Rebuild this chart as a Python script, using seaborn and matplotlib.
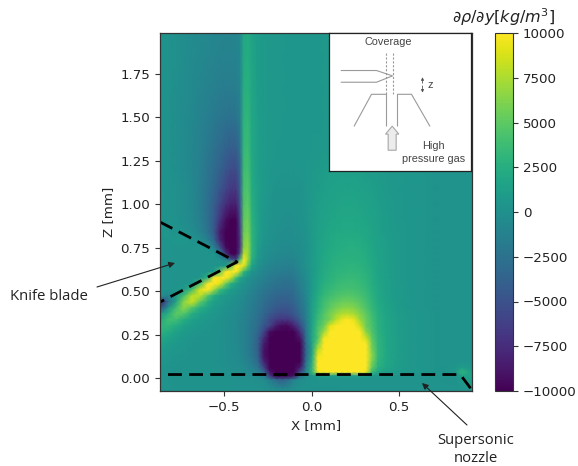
import matplotlib
matplotlib.use("Agg")
import matplotlib.pyplot as plt
import numpy as np
import pandas as pd
import seaborn as sns

# Measurement nodes of the table below, as reference pixel columns / rows
x_nodes_px = [160,168,176,184,192,200,208,214,220,226,231,236,240,244,248,252,258,264,270,276,282,288,294,300,306,
              312,318,324,330,336,342,348,354,360,366,372,378,386,396,410,425,440,455,462,472]
z_nodes_px = [33,60,90,120,150,170,190,205,220,232,240,248,254,260,266,272,278,284,290,296,302,308,314,320,326,332,
              338,344,350,356,362,368,372,376,380,391]

# Density gradient, in units of 1000 kg/m3 (rows top to bottom)
drho_rows = [
    [.2,.1,0,-.2,-.4, -.5,-.7,-.8,-.9,-1, -1,-.9,-.5,2,2.2, 1.6,1,.8,.7,.6, .6,.5,.5,.5,.5, .5,.5,.6,.6,.6, .6,.6,.6,.6,.6, .5,.5,.5,.4,.4, .4,.4,.4,.4,.4],
    [.2,.1,0,-.2,-.5, -.7,-.9,-1,-1.1,-1.2, -1.2,-1.1,-.7,2.2,2.4, 1.7,1,.8,.7,.6, .6,.5,.5,.5,.5, .5,.5,.6,.6,.6, .6,.6,.6,.6,.6, .5,.5,.5,.4,.4, .4,.4,.4,.4,.4],
    [.2,.1,-.1,-.3,-.6, -.9,-1.2,-1.4,-1.6,-1.7, -1.7,-1.5,-1,2.5,2.7, 1.8,1,.8,.7,.6, .6,.5,.5,.5,.5, .5,.5,.6,.6,.6, .6,.6,.6,.6,.6, .5,.5,.5,.4,.4, .4,.4,.4,.4,.4],
    [.2,.1,-.1,-.4,-.7, -1.1,-1.5,-1.9,-2.2,-2.5, -2.6,-2.4,-1.5,3,3.2, 1.9,1.1,.8,.7,.6, .6,.5,.5,.5,.5, .5,.5,.6,.6,.6, .6,.6,.6,.6,.6, .5,.5,.5,.4,.4, .4,.4,.4,.4,.4],
    [.2,.1,-.1,-.4,-.8, -1.3,-2,-2.6,-3.2,-3.8, -4.2,-4.2,-2.5,3.4,3.6, 2,1.1,.8,.7,.6, .5,.5,.5,.5,.5, .6,.6,.7,.7,.7, .7,.7,.7,.7,.7, .6,.6,.5,.4,.4, .4,.4,.4,.4,.4],
    [.2,.1,-.1,-.4,-.8, -1.4,-2.3,-3,-3.8,-4.8, -5.4,-5.4,-3.5,3.8,4, 2.1,1.1,.8,.6,.5, .4,.4,.4,.5,.6, .7,.8,1,1.1,1.1, 1.1,1.1,1.1,1.1,1, .9,.8,.7,.6,.5, .4,.3,.3,.3,.3],
    [.3,.2,0,-.3,-.7, -1.5,-2.6,-3.5,-4.8,-6, -6.8,-6.8,-4,4.2,4.5, 2.3,1.2,.8,.5,.3, .2,.2,.2,.3,.5, .8,1,1.2,1.3,1.4, 1.5,1.5,1.5,1.4,1.3, 1.2,1,.8,.6,.5, .4,.3,.3,.3,.3],
    [.3,.2,0,-.3,-.7, -1.5,-2.8,-4,-5.8,-7.5, -8.3,-8.3,-5,4.5,5, 2.5,1.2,.7,.4,.2, .1,.1,.1,.2,.5, .8,1.1,1.3,1.5,1.6, 1.7,1.7,1.7,1.6,1.5, 1.3,1.1,.9,.7,.5, .4,.3,.3,.3,.3],
    [.4,.2,.1,-.2,-.6, -1.4,-2.8,-4.3,-7,-9.3, -10,-10,-6,5,5.6, 2.8,1.3,.6,.3,.1, 0,-.1,0,.1,.4, .8,1.2,1.5,1.7,1.8, 1.9,1.9,1.9,1.8,1.7, 1.5,1.2,1,.7,.5, .4,.3,.3,.3,.3],
    [.6,.5,.3,.1,-.3, -1,-2.5,-4.5,-8.5,-10, -10,-10,-6.5,5.5,6, 3,1.3,.5,.2,0, -.2,-.2,-.1,0,.3, .8,1.3,1.6,1.9,2, 2.1,2.1,2.1,2,1.9, 1.6,1.3,1,.8,.5, .4,.3,.3,.3,.3],
    [.3,.4,.6,.5,.3, -.2,-1.5,-3.5,-8,-10, -10,-10,-7,6,6.5, 3,1.2,.4,.1,-.1, -.3,-.3,-.2,-.1,.3, .8,1.3,1.7,2,2.2, 2.2,2.3,2.3,2.2,2, 1.7,1.4,1.1,.8,.5, .4,.3,.3,.3,.3],
    [.3,.3,.3,.3,.4, .5,.3,-1,-5,-9.5, -10,-10,-7,6.5,7, 3,1,.2,-.1,-.3, -.5,-.5,-.4,-.2,.2, .8,1.4,1.8,2.1,2.3, 2.4,2.5,2.5,2.4,2.2, 1.8,1.4,1.1,.8,.5, .4,.3,.3,.3,.3],
    [.3,.3,.3,.3,.3, .3,.3,.4,-1.5,-7, -10,-10,-5,8,7, 3,.8,0,-.3,-.6, -.7,-.7,-.6,-.3,.1, .8,1.4,1.9,2.2,2.4, 2.5,2.6,2.6,2.5,2.3, 1.9,1.5,1.1,.8,.5, .4,.3,.3,.3,.3],
    [.3,.3,.3,.3,.3, .3,.3,.3,.3,-1, -4,-6,4,10,7, 2.5,.5,-.2,-.5,-.8, -.9,-1,-.8,-.4,.1, .8,1.5,2,2.3,2.6, 2.7,2.7,2.7,2.6,2.4, 2,1.5,1.1,.8,.5, .4,.3,.3,.3,.3],
    [.3,.3,.3,.3,.3, .3,.3,.3,.4,1, 5,10,10,9,5, 1.5,.1,-.5,-.9,-1.2, -1.3,-1.4,-1.1,-.6,0, .8,1.5,2.1,2.4,2.7, 2.8,2.9,2.9,2.8,2.5, 2.1,1.6,1.2,.8,.5, .4,.3,.3,.3,.3],
    [.3,.3,.3,.3,.3, .3,.4,1,5,10, 10,10,7,3,1.5, .3,-.3,-.9,-1.3,-1.6, -1.7,-1.8,-1.5,-.8,-.1, .8,1.6,2.2,2.6,2.9, 3,3.1,3.1,3,2.7, 2.2,1.7,1.2,.8,.5, .4,.3,.3,.3,.3],
    [.3,.3,.3,.3,.3, .5,3,10,10,10, 8,4,1.8,.8,.2, -.3,-.8,-1.3,-1.7,-2, -2.2,-2.3,-1.9,-1.1,-.3, .8,1.7,2.4,2.8,3.1, 3.3,3.4,3.4,3.2,2.9, 2.3,1.7,1.2,.8,.5, .4,.3,.3,.3,.3],
    [.3,.3,.3,.4,.6, 4,10,10,9,5, 2.5,1.2,.6,.2,-.2, -.7,-1.2,-1.7,-2.1,-2.4, -2.6,-2.7,-2.3,-1.4,-.5, .8,1.8,2.6,3,3.4, 3.6,3.7,3.7,3.5,3.1, 2.4,1.8,1.3,.8,.5, .4,.3,.3,.3,.3],
    [.3,.3,.4,.8,4, 9,10,7,3.5,2, 1,.5,.2,-.2,-.6, -1,-1.6,-2.1,-2.5,-2.9, -3.1,-3.1,-2.7,-1.7,-.6, .9,2,2.9,3.4,3.8, 4,4.1,4,3.8,3.3, 2.6,1.9,1.3,.9,.6, .4,.3,.3,.3,.3],
    [.2,-1,.5,4,8, 8,4.5,2.3,1.2,.7, .4,.1,-.2,-.5,-.9, -1.3,-1.9,-2.5,-3,-3.4, -3.6,-3.6,-3.1,-2,-.8, 1,2.3,3.3,3.9,4.3, 4.6,4.7,4.6,4.2,3.6, 2.8,2,1.4,.9,.6, .4,.3,.3,.3,.3],
    [-8,-3,1.5,6.5,8.5, 5,2.5,1.3,.8,.4, .1,-.1,-.4,-.7,-1.1, -1.5,-2.1,-2.8,-3.4,-3.9, -4,-4,-3.5,-2.3,-1, 1.1,2.6,3.8,4.5,5, 5.4,5.5,5.3,4.8,4, 3,2.1,1.5,1,.6, .4,.3,.3,.3,.3],
    [-5,.3,3.8,6.5,4.5, 2.5,1.4,.9,.5,.2, -.1,-.3,-.6,-.9,-1.3, -1.7,-2.3,-3.1,-3.8,-4.4, -4.7,-4.7,-4,-2.7,-1.2, 1.2,2.8,4,5,5.8, 6.3,6.5,6.2,5.4,4.4, 3.3,2.3,1.6,1,.6, .4,.3,.3,.3,.3],
    [.5,2.5,5,4.5,2.4, 1.4,.9,.6,.3,0, -.2,-.4,-.7,-1,-1.4, -1.8,-2.5,-3.5,-4.5,-5.2, -5.5,-5.3,-4.6,-3.2,-1.4, 1.3,3.2,4.6,5.8,6.8, 7.6,7.8,7.4,6.2,5, 3.7,2.5,1.7,1.1,.7, .5,.3,.3,.3,.3],
    [2,3.8,3.8,2.3,1.4, .9,.6,.4,.2,-.1, -.3,-.5,-.8,-1.1,-1.5, -2,-2.8,-4,-5.5,-6.5, -7,-7,-6,-4,-1.6, 1.4,3.6,4.8,6,8, 9.6,10,9.3,7,5.4, 4,2.6,1.8,1.1,.7, .5,.3,.3,.3,.3],
    [3,3.2,2.3,1.4,.9, .6,.4,.3,.1,-.1, -.3,-.5,-.8,-1.2,-1.6, -2.1,-3,-4.7,-6,-8.5, -9.5,-9.5,-8,-5.5,-1.8, 1.5,4,5.5,9,10, 10,10,10,8.5,5.5, 4.2,2.7,1.8,1.1,.7, .5,.3,.3,.3,.3],
    [2.8,2.2,1.4,.9,.6, .4,.3,.2,.1,-.1, -.3,-.5,-.8,-1.2,-1.7, -2.2,-3.4,-6,-9.5,-10, -10,-10,-10,-7.5,-2.2, 1.6,4.5,7,10,10, 10,10,10,10,6.5, 4.5,2.8,1.8,1.1,.7, .5,.3,.3,.3,.3],
    [2,1.5,1,.6,.4, .3,.2,.1,0,-.1, -.3,-.5,-.8,-1.2,-1.7, -2.3,-3.8,-7.5,-10,-10, -10,-10,-10,-9,-2.6, 1.7,4.5,9.5,10,10, 10,10,10,10,8.5, 5,3,1.9,1.2,.7, .5,.3,.3,.3,.3],
    [1.4,1,.7,.5,.3, .2,.1,.1,0,-.1, -.3,-.5,-.8,-1.2,-1.7, -2.4,-4,-8.5,-10,-10, -10,-10,-10,-10,-3.2, 1.6,6,10,10,10, 10,10,10,10,10, 5.5,3.1,1.9,1.2,.7, .5,.3,.3,.3,.3],
    [1,.7,.5,.4,.3, .2,.1,.1,0,-.1, -.2,-.4,-.7,-1.1,-1.6, -2.3,-4,-9,-10,-10, -10,-10,-10,-10,-3.5, 1.5,8,10,10,10, 10,10,10,10,10, 6,3.2,2,1.2,.7, .5,.3,.3,.3,.3],
    [.7,.5,.4,.3,.2, .2,.1,.1,0,-.1, -.2,-.4,-.6,-1,-1.5, -2.1,-3.8,-9,-10,-10, -10,-10,-10,-10,-3.3, 2,9.5,10,10,10, 10,10,10,10,10, 6.5,3.2,2,1.2,.7, .5,.3,.3,.3,.3],
    [.5,.4,.3,.2,.2, .2,.1,.1,0,-.1, -.2,-.3,-.5,-.8,-1.2, -1.8,-3.2,-8,-10,-10, -10,-10,-10,-10,-2.8, 2.5,10,10,10,10, 10,10,10,10,10, 6,3,1.9,1.2,.7, .5,.3,.3,.3,.3],
    [.4,.3,.2,.2,.2, .1,.1,.1,0,0, -.1,-.2,-.3,-.5,-.8, -1.2,-2.2,-6,-10,-10, -10,-10,-10,-8.5,-1.8, 3,10,10,10,10, 10,10,10,10,10, 5,2.6,1.7,1.1,.7, .5,.3,.4,1.2,.6],
    [.3,.3,.2,.2,.2, .1,.1,.1,.1,0, 0,-.1,-.2,-.3,-.5, -.8,-1.4,-3.5,-9,-10, -10,-10,-10,-6,-1, 3.2,9.5,10,10,10, 10,10,10,10,9.5, 3.5,1.8,1.2,.9,.6, .5,.3,.6,3,1],
    [.3,.3,.2,.2,.2, .1,.1,.1,.1,.1, 0,0,-.1,-.1,-.2, -.3,-.5,-1.5,-7,-10, -10,-10,-9,-3,-.3, .5,1,1.2,1.2,1.2, 1.2,1.2,1.2,1.2,1, .7,.5,.4,.4,.3, .3,.3,.3,1.5,1.5],
    [.3,.3,.2,.2,.2, .1,.1,.1,.1,.1, .1,0,0,0,0, 0,-.1,-.3,-1.5,-3, -4,-3,-1,-.2,0, .2,.3,.3,.3,.3, .3,.3,.3,.3,.3, .3,.3,.3,.3,.3, .3,.3,.2,.8,1.5],
    [.3,.3,.2,.2,.2, .1,.1,.1,.1,.1, .1,.1,.1,.1,.1, .1,.1,.1,.1,.1, 0,.1,.1,.1,.1, .2,.2,.2,.2,.2, .3,.3,.3,.3,.3, .3,.3,.3,.3,.3, .3,.3,.3,.3,.3],
]
x_ticks_mm = [-0.5, 0.0, 0.5]
z_ticks_mm = [0.0, 0.25, 0.5, 0.75, 1.0, 1.25, 1.5, 1.75]
cbar_ticks = [-10000, -7500, -5000, -2500, 0, 2500, 5000, 7500, 10000]

# dashed outlines in mm
knife_x = [-0.866, -0.426, -0.866]
knife_z = [0.898, 0.668, 0.437]
nozzle_x = [-0.82, 0.85, 0.92]
nozzle_z = [0.02, 0.02, -0.07]

W, H = 578, 466


def box(x0, y0, x1, y1):
    # axes rectangle from reference pixels
    return [x0 / W, 1 - y1 / H, (x1 - x0) / W, (y1 - y0) / H]


def fig_xy(px, py):
    return px / W, 1 - py / H


df = pd.DataFrame(np.array(drho_rows) * 1000)
nrows, ncols = df.shape
col_idx = np.arange(ncols)
row_idx = np.arange(nrows)


def col_of(x_mm):
    # mm -> table column
    return np.interp(311.5 + 175.0 * np.asarray(x_mm), x_nodes_px, col_idx)


def row_of(z_mm):
    # mm -> table row
    return np.interp(378.0 - 173.7 * np.asarray(z_mm), z_nodes_px, row_idx)


sns.set_theme(style="ticks", rc={"font.family": "DejaVu Sans"})
fig = plt.figure(figsize=(W / 100, H / 100), dpi=100)
ax = fig.add_axes(box(160, 33, 472, 391))
cax = fig.add_axes(box(495, 33, 513, 391))

sns.heatmap(df, ax=ax, cbar_ax=cax, cmap="viridis", vmin=-10000, vmax=10000, shading="gouraud",
            xticklabels=False, yticklabels=False, cbar_kws={"ticks": cbar_ticks})

# table nodes are not evenly spaced, so stretch the axes to match
ax.set_xscale("function", functions=(lambda i: np.interp(i, col_idx, x_nodes_px),
                                     lambda p: np.interp(p, x_nodes_px, col_idx)))
ax.set_yscale("function", functions=(lambda i: np.interp(i, row_idx, z_nodes_px),
                                     lambda p: np.interp(p, z_nodes_px, row_idx)))
ax.set_xlim(0, ncols - 1)
ax.set_ylim(nrows - 1, 0)

for s in ax.spines.values():
    s.set_visible(True)
    s.set_linewidth(0.9)
    s.set_color("#333333")
ax.set_xticks(col_of(x_ticks_mm))
ax.set_xticklabels(["\u22120.5", "0.0", "0.5"])
ax.set_yticks(row_of(z_ticks_mm))
ax.set_yticklabels(["%.2f" % z for z in z_ticks_mm])
ax.tick_params(labelsize=9.6, length=3.5, width=0.8, color="#333333", labelcolor="#222222",
               bottom=True, left=True, labelbottom=True, labelleft=True)
plt.setp(ax.get_yticklabels(), rotation=0)
plt.setp(ax.get_xticklabels(), rotation=0)
ax.set_xlabel("X [mm]", fontsize=9.6, color="#222222", labelpad=4)
ax.set_ylabel("Z [mm]", fontsize=9.6, color="#222222", labelpad=4)

ax.plot(col_of(knife_x), row_of(knife_z), color="black", lw=2, ls=(0, (5, 2.6)))
ax.plot(col_of(nozzle_x), row_of(nozzle_z), color="black", lw=2, ls=(0, (5, 2.6)))

cb = ax.collections[0].colorbar
cb.outline.set_visible(True)
cb.outline.set_linewidth(0.8)
cb.outline.set_edgecolor("#333333")
cb.ax.tick_params(labelsize=9.6, length=3.5, width=0.8, color="#333333", labelcolor="#222222", right=True)
cb.ax.set_title(r"$\partial\rho/\partial y[kg/m^3]$", fontsize=11.5, color="#222222", pad=7)

# outer annotations
ax.annotate("", xy=fig_xy(175, 263), xytext=fig_xy(97, 287), xycoords="figure fraction",
            textcoords="figure fraction", annotation_clip=False,
            arrowprops=dict(arrowstyle="-|>", color="#222222", lw=0.8, mutation_scale=9, shrinkA=0, shrinkB=0))
ax.annotate("", xy=fig_xy(422, 383), xytext=fig_xy(467, 425), xycoords="figure fraction",
            textcoords="figure fraction", annotation_clip=False,
            arrowprops=dict(arrowstyle="-|>", color="#222222", lw=0.8, mutation_scale=9, shrinkA=0, shrinkB=0))
txt = dict(family="Open Sans", fontsize=10.7, color="#222222", va="center")
fig.text(*fig_xy(10, 297), "Knife blade", ha="left", **txt)
fig.text(*fig_xy(476, 440), "Supersonic", ha="center", **txt)
fig.text(*fig_xy(476, 459), "nozzle", ha="center", **txt)

# inset schematic
ins = fig.add_axes(box(328.5, 33, 470.5, 171))
ins.set_xlim(26, 452)
ins.set_ylim(512, 100)
ins.set_xticks([])
ins.set_yticks([])
ins.set_facecolor("white")
for s in ins.spines.values():
    s.set_linewidth(0.9)
    s.set_color("#222222")
gray = "#9a9a9a"
ins.plot([64, 170, 218, 170, 64], [212, 212, 228, 247, 247], color=gray, lw=0.8)
ins.plot([198, 198], [160, 282], color=gray, lw=0.8, ls=(0, (2, 1.5)))
ins.plot([219, 219], [160, 282], color=gray, lw=0.8, ls=(0, (2, 1.5)))
ins.plot([103, 155, 197, 200, 200], [378, 283, 283, 283, 378], color=gray, lw=0.8)
ins.plot([233, 233, 275, 330], [378, 283, 283, 378], color=gray, lw=0.8)
ins.fill([205, 205, 197, 217, 237, 229, 229], [450, 402, 402, 378, 402, 402, 450],
         facecolor="#ececec", edgecolor="#a8a8a8", lw=0.8)
for y0, y1 in [(250, 232), (258, 278)]:
    ins.annotate("", xy=(308, y1), xytext=(308, y0),
                 arrowprops=dict(arrowstyle="-|>", color="#555555", lw=0.6, mutation_scale=4, shrinkA=0, shrinkB=0))
lab = dict(family="Liberation Sans", fontsize=7.8, color="#444444", ha="center", va="center")
ins.text(204, 128, "Coverage", **lab)
ins.text(332, 256, "z", **lab)
ins.text(340, 437, "High", **lab)
ins.text(340, 477, "pressure gas", **lab)

fig.savefig("out.png", dpi=100)
